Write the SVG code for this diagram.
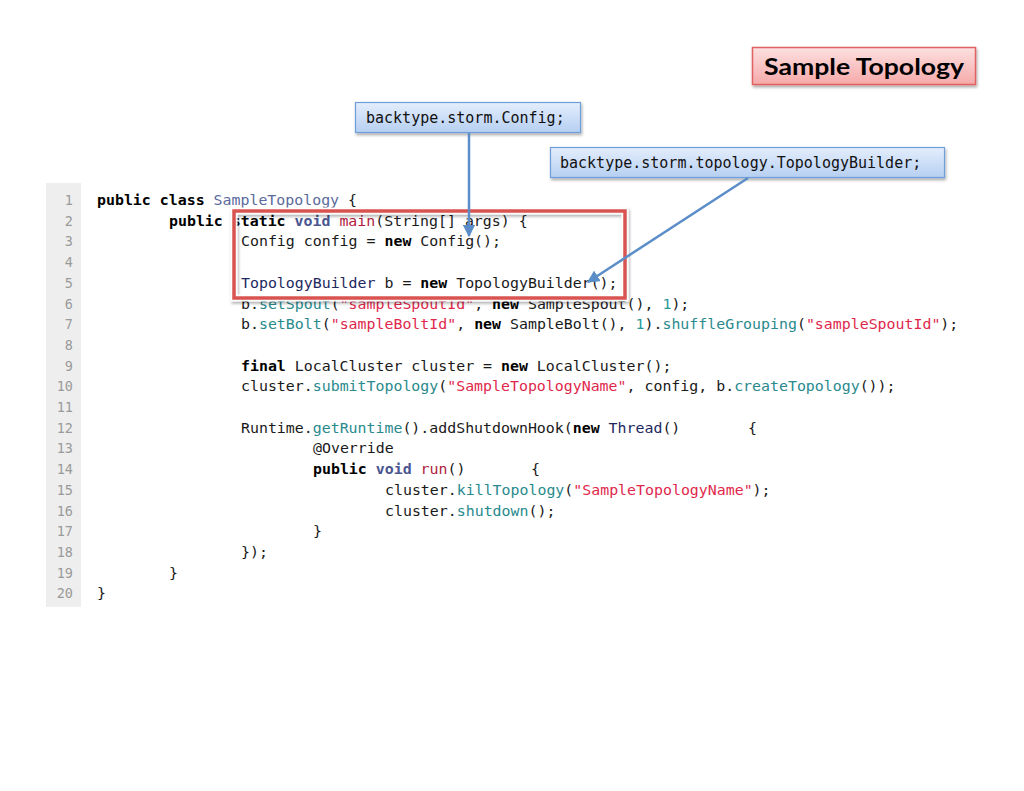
<svg xmlns="http://www.w3.org/2000/svg" width="1024" height="791" viewBox="0 0 1024 791">
<defs>
<style>
.code{font-family:"DejaVu Sans Mono","Liberation Mono",monospace;font-size:14.9px;fill:#1a1a1a;}
.kw{font-weight:bold;fill:#000;}
.vd{font-weight:bold;fill:#4a5590;}
.cls{fill:#5a6a9c;}
.nv{fill:#1e2860;}
.mr{fill:#b0203c;}
.str{fill:#e0284c;}
.mt{fill:#2a8a8e;}
.num{fill:#2a9a9a;}
.ln{font-family:"DejaVu Sans Mono","Liberation Mono",monospace;font-size:13.5px;fill:#9a9a9a;text-anchor:end;}
.lbl{font-family:"DejaVu Sans Mono","Liberation Mono",monospace;font-size:15px;fill:#111;}
.conn{stroke:#5b8ec8;stroke-width:2.5;fill:none;}
</style>
<linearGradient id="gb" x1="0" y1="0" x2="0" y2="1">
<stop offset="0" stop-color="#e4eefc"/>
<stop offset="1" stop-color="#b6cff2"/>
</linearGradient>
<linearGradient id="gr" x1="0" y1="0" x2="0" y2="1">
<stop offset="0" stop-color="#fde0e0"/>
<stop offset="1" stop-color="#f6a9a9"/>
</linearGradient>
<filter id="sh" x="-10%" y="-20%" width="120%" height="150%">
<feDropShadow dx="1" dy="2" stdDeviation="1.5" flood-color="#000" flood-opacity="0.35"/>
</filter>
<marker id="ah" viewBox="0 0 10 10" refX="9" refY="5" markerWidth="5" markerHeight="5" orient="auto" markerUnits="strokeWidth">
<path d="M0,0 L10,5 L0,10 z" fill="#5b8ec8"/>
</marker>
</defs>
<rect width="1024" height="791" fill="#fff"/>

<g id="code">
<rect x="46" y="183" width="35" height="424" fill="#eeeeee"/>
<g class="ln">
<text x="73" y="205">1</text><text x="73" y="225.7">2</text><text x="73" y="246.4">3</text><text x="73" y="267.1">4</text><text x="73" y="287.8">5</text>
<text x="73" y="308.5">6</text><text x="73" y="329.2">7</text><text x="73" y="349.9">8</text><text x="73" y="370.6">9</text><text x="73" y="391.3">10</text>
<text x="73" y="412">11</text><text x="73" y="432.7">12</text><text x="73" y="453.4">13</text><text x="73" y="474.1">14</text><text x="73" y="494.8">15</text>
<text x="73" y="515.5">16</text><text x="73" y="536.2">17</text><text x="73" y="556.9">18</text><text x="73" y="577.6">19</text><text x="73" y="598.3">20</text>
</g>
<g class="code" xml:space="preserve">
<text x="97" y="205"><tspan class="kw">public</tspan> <tspan class="kw">class</tspan> <tspan class="cls">SampleTopology</tspan> {</text>
<text x="169" y="225.7"><tspan class="kw">public</tspan> <tspan class="kw">static</tspan> <tspan class="vd">void</tspan> <tspan class="mr">main</tspan>(String[] args) {</text>
<text x="241" y="246.4">Config config = <tspan class="kw">new</tspan> Config();</text>
<text x="241" y="287.8"><tspan class="nv">TopologyBuilder</tspan> b = <tspan class="kw">new</tspan> TopologyBuilder();</text>
<text x="241" y="308.5">b.<tspan class="mt">setSpout</tspan>(<tspan class="str">"sampleSpoutId"</tspan>, <tspan class="kw">new</tspan> SampleSpout(), <tspan class="num">1</tspan>);</text>
<text x="241" y="329.2">b.<tspan class="mt">setBolt</tspan>(<tspan class="str">"sampleBoltId"</tspan>, <tspan class="kw">new</tspan> SampleBolt(), <tspan class="num">1</tspan>).<tspan class="mt">shuffleGrouping</tspan>(<tspan class="str">"sampleSpoutId"</tspan>);</text>
<text x="241" y="370.6"><tspan class="kw">final</tspan> LocalCluster cluster = <tspan class="kw">new</tspan> LocalCluster();</text>
<text x="241" y="391.3">cluster.<tspan class="mt">submitTopology</tspan>(<tspan class="str">"SampleTopologyName"</tspan>, config, b.<tspan class="mt">createTopology</tspan>());</text>
<text x="241" y="432.7">Runtime.<tspan class="mt">getRuntime</tspan>().addShutdownHook(<tspan class="kw">new</tspan> <tspan class="nv">Thread</tspan>()</text>
<text x="748" y="432.7">{</text>
<text x="313" y="453.4">@Override</text>
<text x="313" y="474.1"><tspan class="kw">public</tspan> <tspan class="vd">void</tspan> <tspan class="mr">run</tspan>()</text>
<text x="531" y="474.1">{</text>
<text x="385" y="494.8">cluster.<tspan class="mt">killTopology</tspan>(<tspan class="str">"SampleTopologyName"</tspan>);</text>
<text x="385" y="515.5">cluster.<tspan class="mt">shutdown</tspan>();</text>
<text x="313" y="536.2">}</text>
<text x="241" y="556.9">});</text>
<text x="169" y="577.6">}</text>
<text x="97" y="598.3">}</text>
</g>
</g>

<g id="highlight">
<rect x="234" y="211" width="391" height="87" fill="none" stroke="#ffffff" stroke-opacity="0.9" stroke-width="7" filter="url(#sh)"/>
<rect x="234" y="211" width="391" height="87" fill="none" stroke="#d95450" stroke-width="3.5"/>
</g>

<g id="title">
<rect x="752.5" y="47.5" width="223" height="37" fill="url(#gr)" stroke="#e06262" stroke-width="1.5" filter="url(#sh)"/>
<text x="864" y="75" text-anchor="middle" font-family="Lato,'Open Sans',sans-serif" font-weight="bold" font-size="22" textLength="200" lengthAdjust="spacingAndGlyphs" fill="#000">Sample Topology</text>
</g>

<g id="config">
<rect x="355.5" y="102.5" width="225" height="30" fill="url(#gb)" stroke="#6f9ed8" stroke-width="1.2" filter="url(#sh)"/>
<text class="lbl" x="366" y="123">backtype.storm.Config;</text>
</g>

<g id="builder">
<rect x="550.5" y="147.5" width="394" height="30" fill="url(#gb)" stroke="#6f9ed8" stroke-width="1.2" filter="url(#sh)"/>
<text class="lbl" x="560" y="168">backtype.storm.topology.TopologyBuilder;</text>
</g>

<g id="connectors">
<line class="conn" x1="469" y1="133" x2="469" y2="236" marker-end="url(#ah)"/>
<line class="conn" x1="748" y1="178" x2="588" y2="282" marker-end="url(#ah)"/>
</g>
</svg>
